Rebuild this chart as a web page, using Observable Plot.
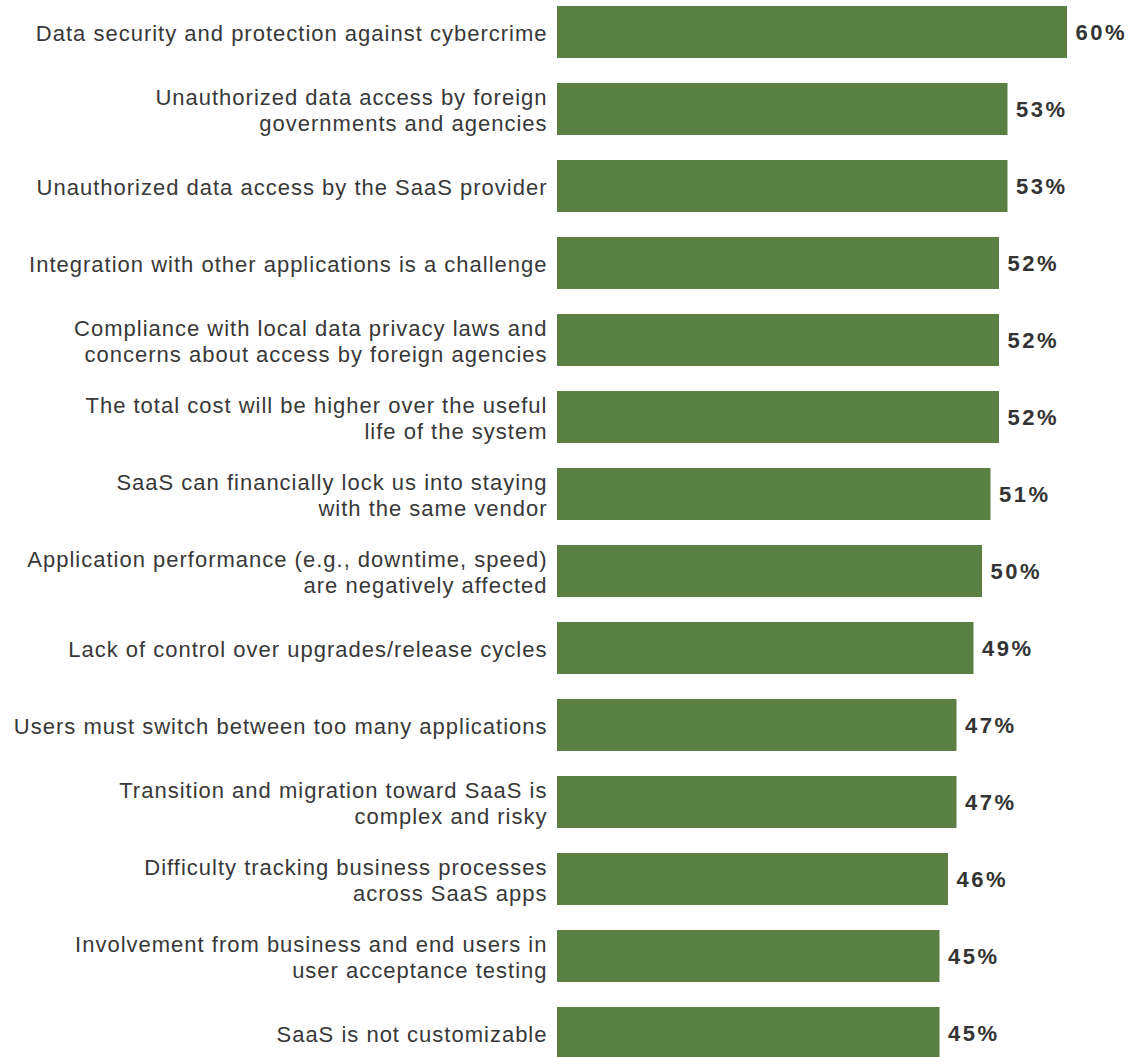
<!DOCTYPE html>
<html><head><meta charset="utf-8">
<script src="https://cdn.jsdelivr.net/npm/d3@7"></script>
<script src="https://cdn.jsdelivr.net/npm/@observablehq/plot@0.6"></script>
<style>
body{margin:0;background:#fff;} svg{display:block;}
g.labels text{letter-spacing:1px;}
g.values text{letter-spacing:2.5px;}
</style>
</head><body><div id="chart"></div>
<script>
const categories = [
  "Data security and protection against cybercrime",
  "Unauthorized data access by foreign\ngovernments and agencies",
  "Unauthorized data access by the SaaS provider",
  "Integration with other applications is a challenge",
  "Compliance with local data privacy laws and\nconcerns about access by foreign agencies",
  "The total cost will be higher over the useful\nlife of the system",
  "SaaS can financially lock us into staying\nwith the same vendor",
  "Application performance (e.g., downtime, speed)\nare negatively affected",
  "Lack of control over upgrades/release cycles",
  "Users must switch between too many applications",
  "Transition and migration toward SaaS is\ncomplex and risky",
  "Difficulty tracking business processes\nacross SaaS apps",
  "Involvement from business and end users in\nuser acceptance testing",
  "SaaS is not customizable"
];
const values = [60, 53, 53, 52, 52, 52, 51, 50, 49, 47, 47, 46, 45, 45];
const data = categories.map((c, i) => ({label: c, value: values[i]}));

const font = "'Liberation Sans', Arial, Helvetica, sans-serif";
const chart = Plot.plot({
  width: 1138,
  height: 1061,
  marginLeft: 557,
  marginRight: 71,
  marginTop: 6,
  marginBottom: 2,
  style: {fontFamily: font, background: "#fff"},
  x: {domain: [0, 60], axis: null},
  y: {domain: categories, padding: 0.325, paddingOuter: 0, axis: null},
  marks: [
    Plot.barX(data, {y: "label", x: "value", fill: "#5b8043"}),
    Plot.text(data, {y: "label", frameAnchor: "left", textAnchor: "end", dx: -10,
      text: "label", fontSize: 22, fill: "#383838", lineHeight: 1.18, className: "labels"}),
    Plot.text(data, {y: "label", x: "value", textAnchor: "start", dx: 8,
      text: d => d.value + "%", fontSize: 22, fontWeight: "bold", fill: "#333", className: "values"})
  ]
});
document.getElementById("chart").appendChild(chart);
</script></body></html>
